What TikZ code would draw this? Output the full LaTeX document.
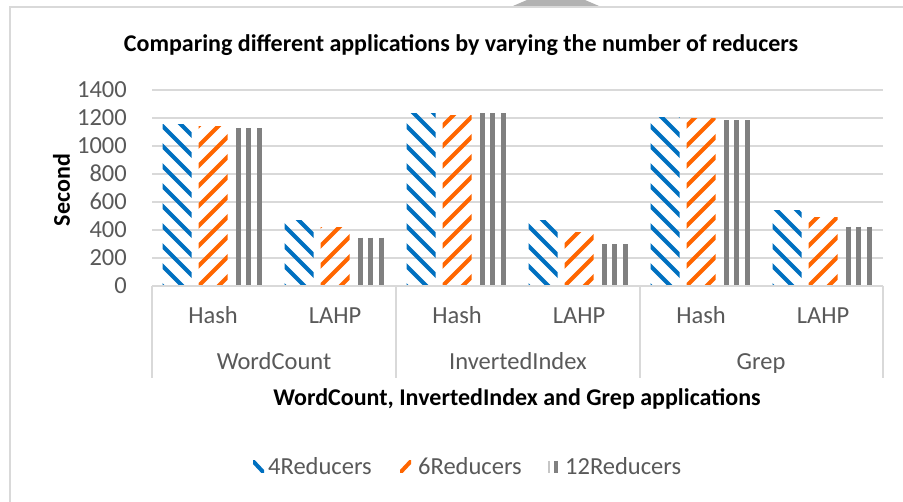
\documentclass[tikz,border=0pt]{standalone}
\usepackage{fontspec}
\setmainfont{Carlito}
\definecolor{rblue}{HTML}{0070C0}
\definecolor{rorange}{HTML}{FF6600}
\definecolor{rgray}{HTML}{808080}
\definecolor{gridgray}{HTML}{D9D9D9}
\definecolor{txtgray}{HTML}{595959}
\begin{document}
\begin{tikzpicture}[x=1pt,y=-1pt,
  ticklabel/.style={text=txtgray,font=\fontsize{24.5}{28}\selectfont,inner sep=0pt,text height=16pt,text depth=0pt},
  axistitle/.style={font=\fontsize{24}{28}\selectfont\bfseries,inner sep=0pt,text height=15.5pt,text depth=0pt},
  bluestripe/.style={rblue,line width=4.2},
  orangestripe/.style={rorange,line width=4.2},
  graystripe/.style={rgray,line width=5}]
  \useasboundingbox (0,0) rectangle (903,502);
  \fill[white] (0,0) rectangle (903,502);
  \draw[gridgray,line width=2] (10,502) -- (10,7) -- (903,7);
  \fill[black!30] (513,6) -- (527,0) -- (585,0) -- (599,6) -- cycle;

  \draw node[axistitle] (title) at (461,44) {Comparing different applications by varying the number of reducers};

  \foreach \v in {1,...,7}
    \draw[gridgray,line width=1.5] (152,286-28*\v) -- (883,286-28*\v);
  \foreach \v in {0,...,7}
    \draw node[ticklabel,anchor=east] (tick\v) at (127,286-28*\v) {\pgfmathparse{int(200*\v)}\pgfmathresult};
  \draw node[axistitle,rotate=90] (ytitle) at (62,190) {Second};

  \foreach \g/\a/\b/\c in {0/1154/1141/1125, 1/471/418/345, 2/1233/1220/1233,
                          3/467/383/299, 4/1206/1197/1185, 5/538/490/424} {
    \pgfmathsetmacro\xa{162.5+122*\g}
    \pgfmathsetmacro\ya{286-0.14*\a}
    \pgfmathsetmacro\yb{286-0.14*\b}
    \pgfmathsetmacro\yc{286-0.14*\c}
    \begin{scope}
      \clip (\xa,\ya) rectangle (\xa+29,286);
      \foreach \k in {-10,...,1}
        \draw[bluestripe] (\xa-5,286+20*\k-5) -- ++(40,40);
    \end{scope}
    \begin{scope}
      \clip (\xa+36,\yb) rectangle (\xa+65,286);
      \foreach \k in {-9,...,2}
        \draw[orangestripe] (\xa+31,286+20*\k+5) -- ++(40,-40);
    \end{scope}
    \foreach \s in {3.5,14,24.5}
      \draw[graystripe] (\xa+72+\s,\yc) -- (\xa+72+\s,286);
  }

  \draw[gridgray,line width=1.5] (152,286) -- (883,286);
  \foreach \x in {152,396,640,883}
    \draw[gridgray,line width=1.5] (\x,286) -- (\x,378);

  \draw node[ticklabel] (hash1) at (213,316) {Hash};
  \draw node[ticklabel] (lahp1) at (335,316) {LAHP};
  \draw node[ticklabel] (hash2) at (457,316) {Hash};
  \draw node[ticklabel] (lahp2) at (579,316) {LAHP};
  \draw node[ticklabel] (hash3) at (701,316) {Hash};
  \draw node[ticklabel] (lahp3) at (823,316) {LAHP};
  \draw node[ticklabel] (wc) at (274,362) {WordCount};
  \draw node[ticklabel] (ii) at (518,362) {InvertedIndex};
  \draw node[ticklabel] (grep) at (761,362) {Grep};
  \draw node[axistitle] (xtitle) at (517,398) {WordCount, InvertedIndex and Grep applications};

  \begin{scope}
    \clip (253,461) rectangle (264,473);
    \draw[bluestripe,line width=4] (251,459) -- (266,475);
  \end{scope}
  \draw node[ticklabel,anchor=west] (leg4) at (268,467) {4Reducers};
  \begin{scope}
    \clip (400,461) rectangle (411,473);
    \draw[orangestripe,line width=4] (398,475) -- (413,459);
  \end{scope}
  \draw node[ticklabel,anchor=west] (leg6) at (418,467) {6Reducers};
  \draw[rgray!45,line width=2] (549,461) -- (549,473);
  \draw[rgray,line width=4] (556,461) -- (556,473);
  \draw node[ticklabel,anchor=west] (leg12) at (565,467) {12Reducers};
\end{tikzpicture}
\end{document}
